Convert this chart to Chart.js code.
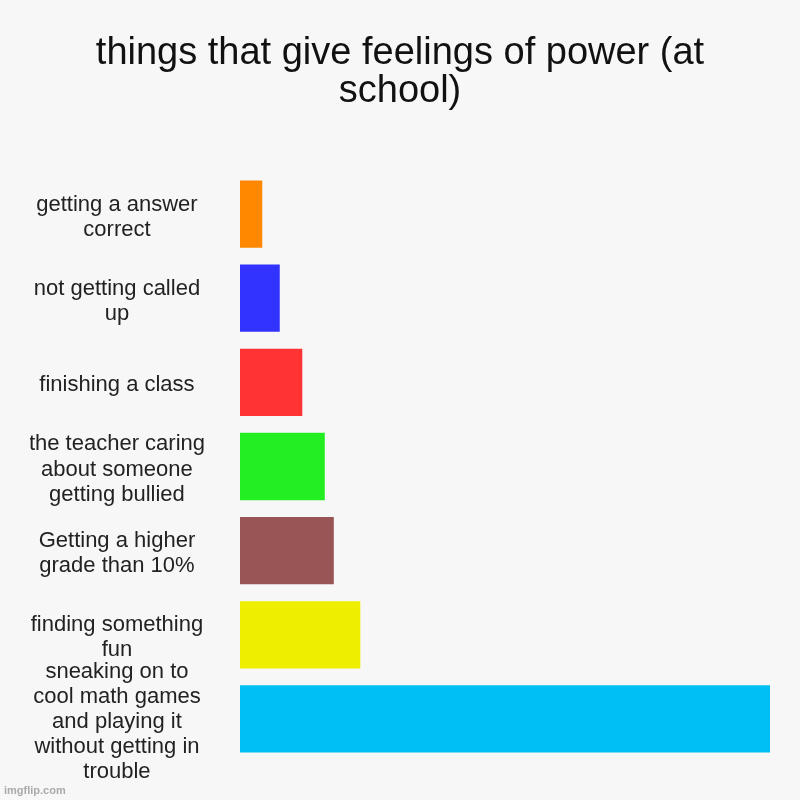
<!DOCTYPE html>
<html>
<head>
<meta charset="utf-8">
<script src="https://cdn.jsdelivr.net/npm/chart.js@4/dist/chart.umd.min.js"></script>
<style>
    html, body { margin: 0; padding: 0; background: #f7f7f7; }
    #wrap { width: 800px; height: 800px; }
</style>
</head>
<body>
<div id="wrap"><canvas id="powerChart"></canvas></div>
<script>
const categories = [
    ['getting a answer', 'correct'],
    ['not getting called', 'up'],
    ['finishing a class'],
    ['the teacher caring', 'about someone', 'getting bullied'],
    ['Getting a higher', 'grade than 10%'],
    ['finding something', 'fun'],
    ['sneaking on to', 'cool math games', 'and playing it', 'without getting in', 'trouble'],
];
const values = [4.2, 7.5, 11.75, 16, 17.7, 22.7, 100];
const barColors = ['#ff8800', '#3333ff', '#ff3333', '#22ee22', '#995555', '#eeee00', '#00bff3'];
const titleLines = ['things that give feelings of power (at', 'school)'];

const background = {
    id: 'background',
    beforeDraw(chart) {
        const c = chart.ctx;
        c.save();
        c.fillStyle = '#f7f7f7';
        c.fillRect(0, 0, chart.width, chart.height);
        c.restore();
    },
    afterDraw(chart) {
        const c = chart.ctx;
        c.save();
        c.fillStyle = '#aaaaaa';
        c.font = 'bold 11px "Liberation Sans", Arial, sans-serif';
        c.textBaseline = 'middle';
        c.fillText('imgflip.com', 4, 791);
        c.restore();
    },
};

new Chart(document.getElementById('powerChart'), {
    type: 'bar',
    data: {
        labels: categories,
        datasets: [{
            data: values,
            backgroundColor: barColors,
            borderWidth: 0,
            barPercentage: 0.8,
            categoryPercentage: 1,
        }],
    },
    plugins: [background],
    options: {
        indexAxis: 'y',
        responsive: true,
        maintainAspectRatio: false,
        animation: false,
        layout: { padding: { left: 30, right: 30, top: 0, bottom: 39 } },
        plugins: {
            legend: { display: false },
            tooltip: { enabled: false },
            title: {
                display: true,
                text: titleLines,
                color: '#111111',
                font: { family: '"Liberation Sans", Arial, sans-serif', size: 38, weight: 'normal', lineHeight: 1.0 },
                padding: { top: 35, bottom: 61 },
            },
        },
        scales: {
            x: {
                display: false,
                min: 0,
                max: 100,
            },
            y: {
                border: { display: false },
                grid: { display: false, drawTicks: false },
                afterFit: (scale) => {
                    // labels may spill past the plot area, like the original
                    scale.width = 210;
                    scale.paddingTop = 0;
                    scale.paddingBottom = 0;
                },
                ticks: {
                    autoSkip: false,
                    crossAlign: 'center',
                    padding: 35,
                    labelOffset: 3,
                    color: '#222222',
                    font: { family: '"Liberation Sans", Arial, sans-serif', size: 22, lineHeight: 1.14 },
                },
            },
        },
    },
});
</script>
</body>
</html>
